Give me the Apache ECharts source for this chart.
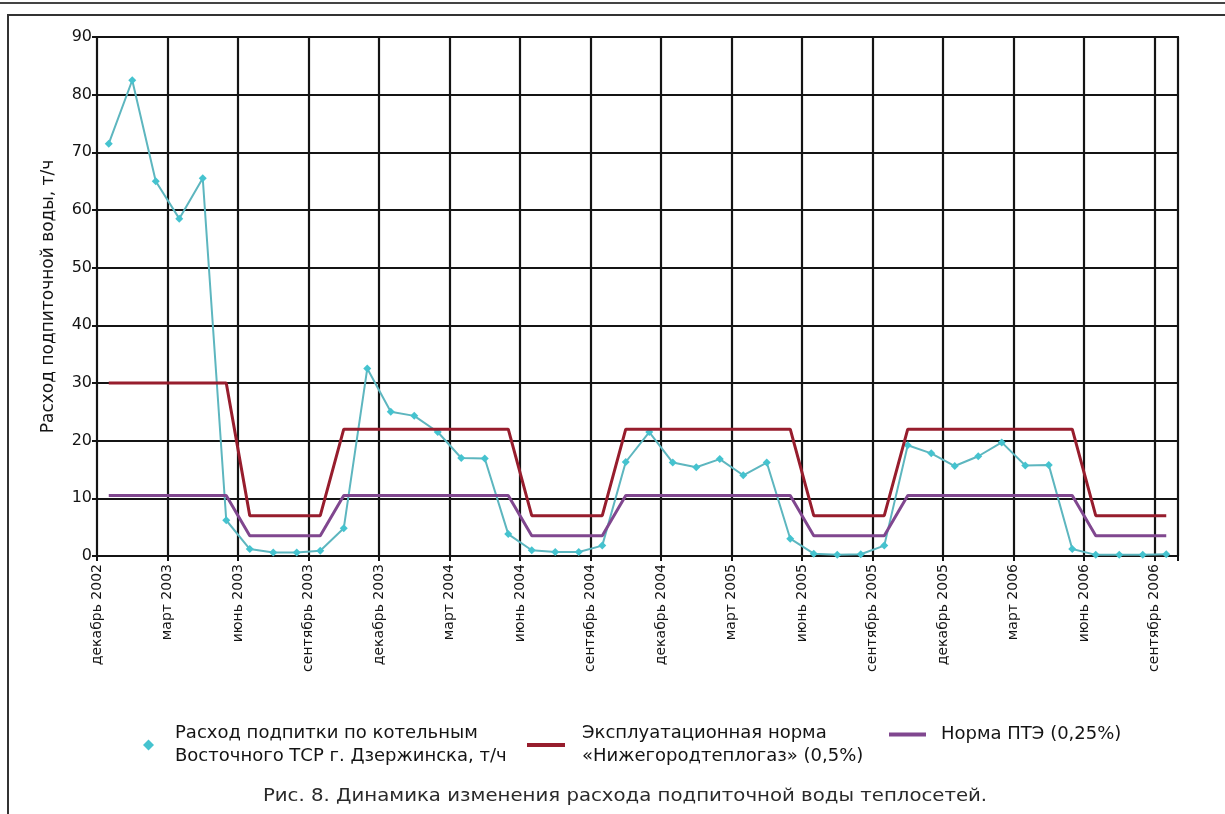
<!DOCTYPE html>
<html><head><meta charset="utf-8">
<script src="https://cdn.jsdelivr.net/npm/echarts@6/dist/echarts.min.js"></script>
<style>html,body{margin:0;padding:0;background:#fff}#c{width:1225px;height:814px}</style>
</head><body><div id="c"></div>
<script>
// ---- data ----
const months = [
  'декабрь 2002',
  'январь 2003','февраль 2003','март 2003','апрель 2003','май 2003','июнь 2003',
  'июль 2003','август 2003','сентябрь 2003','октябрь 2003','ноябрь 2003','декабрь 2003',
  'январь 2004','февраль 2004','март 2004','апрель 2004','май 2004','июнь 2004',
  'июль 2004','август 2004','сентябрь 2004','октябрь 2004','ноябрь 2004','декабрь 2004',
  'январь 2005','февраль 2005','март 2005','апрель 2005','май 2005','июнь 2005',
  'июль 2005','август 2005','сентябрь 2005','октябрь 2005','ноябрь 2005','декабрь 2005',
  'январь 2006','февраль 2006','март 2006','апрель 2006','май 2006','июнь 2006',
  'июль 2006','август 2006','сентябрь 2006'
];
const feedWater = [
  71.5, 82.5, 65, 58.5, 65.5, 6.2, 1.2, 0.6, 0.6, 0.9, 4.8, 32.5,
  25, 24.3, 21.5, 17, 16.9, 3.8, 1.0, 0.7, 0.7, 1.8, 16.3, 21.5,
  16.2, 15.4, 16.8, 14, 16.2, 3.0, 0.4, 0.2, 0.3, 1.8, 19.2, 17.8,
  15.6, 17.3, 19.7, 15.7, 15.8, 1.2, 0.2, 0.2, 0.2, 0.3
];
const opNorm = [
  30, 30, 30, 30, 30, 30, 7, 7, 7, 7, 22, 22,
  22, 22, 22, 22, 22, 22, 7, 7, 7, 7, 22, 22,
  22, 22, 22, 22, 22, 22, 7, 7, 7, 7, 22, 22,
  22, 22, 22, 22, 22, 22, 7, 7, 7, 7
];
const pteNorm = [
  10.5, 10.5, 10.5, 10.5, 10.5, 10.5, 3.5, 3.5, 3.5, 3.5, 10.5, 10.5,
  10.5, 10.5, 10.5, 10.5, 10.5, 10.5, 3.5, 3.5, 3.5, 3.5, 10.5, 10.5,
  10.5, 10.5, 10.5, 10.5, 10.5, 10.5, 3.5, 3.5, 3.5, 3.5, 10.5, 10.5,
  10.5, 10.5, 10.5, 10.5, 10.5, 10.5, 3.5, 3.5, 3.5, 3.5
];
const seriesNames = [
  'Расход подпитки по котельным\nВосточного ТСР г. Дзержинска, т/ч',
  'Эксплуатационная норма\n«Нижегородтеплогаз» (0,5%)',
  'Норма ПТЭ (0,25%)'
];
const yAxisTitle = 'Расход подпиточной воды, т/ч';
const caption = 'Рис. 8. Динамика изменения расхода подпиточной воды теплосетей.';

// ---- chart ----
const FONT = 'DejaVu Sans';
const INK = '#141414';
const chart = echarts.init(document.getElementById('c'), null, {renderer: 'canvas'});
const legendText = {fontFamily: FONT, fontSize: 18, lineHeight: 23, color: INK};
chart.setOption({
  backgroundColor: '#fff',
  animation: false,
  grid: {left: 97, top: 37, right: 47, bottom: 258, show: true, borderColor: INK, borderWidth: 2},
  xAxis: [
    {type: 'category', data: months, boundaryGap: true, show: false},
    {
      type: 'value', min: 0, max: months.length, interval: 3, position: 'bottom',
      axisLine: {show: true, lineStyle: {color: INK, width: 2}},
      axisTick: {show: true, length: 5, lineStyle: {color: INK, width: 2}},
      axisLabel: {
        rotate: 90, margin: 8, fontFamily: FONT, fontSize: 14, color: INK,
        formatter: v => (v % 3 === 0 && v < months.length) ? months[v] : ''
      },
      splitLine: {show: true, lineStyle: {color: INK, width: 2.2}}
    }
  ],
  yAxis: {
    type: 'value', min: 0, max: 90, interval: 10,
    name: yAxisTitle, nameLocation: 'middle', nameGap: 40,
    nameTextStyle: {fontFamily: FONT, fontSize: 17, color: INK},
    axisLine: {show: true, lineStyle: {color: INK, width: 2}},
    axisTick: {show: true, length: 5, lineStyle: {color: INK, width: 2}},
    axisLabel: {fontFamily: FONT, fontSize: 16, color: INK, margin: 5},
    splitLine: {show: true, lineStyle: {color: INK, width: 2.2}}
  },
  legend: [
    {data: [seriesNames[0]], left: 143, top: 722, padding: 0, icon: 'diamond',
     itemWidth: 11, itemHeight: 11, textStyle: Object.assign({padding: [0, 0, 0, 16]}, legendText)},
    {data: [seriesNames[1]], left: 527, top: 722, padding: 0, icon: 'rect',
     itemWidth: 38, itemHeight: 4, textStyle: Object.assign({padding: [0, 0, 0, 12]}, legendText)},
    {data: [seriesNames[2]], left: 889, top: 723, padding: 0, icon: 'rect',
     itemWidth: 37, itemHeight: 4, textStyle: Object.assign({padding: [0, 0, 0, 10]}, legendText)}
  ],
  series: [
    {name: seriesNames[0], type: 'line', xAxisIndex: 0, data: feedWater,
     symbol: 'diamond', symbolSize: 8, showSymbol: true, silent: true,
     lineStyle: {color: '#5db6bf', width: 2}, itemStyle: {color: '#45c3cf'}, z: 2},
    {name: seriesNames[1], type: 'line', xAxisIndex: 0, data: opNorm,
     symbol: 'none', silent: true,
     lineStyle: {color: '#971d2d', width: 3}, itemStyle: {color: '#971d2d'}, z: 3},
    {name: seriesNames[2], type: 'line', xAxisIndex: 0, data: pteNorm,
     symbol: 'none', silent: true,
     lineStyle: {color: '#80478f', width: 3}, itemStyle: {color: '#80478f'}, z: 3}
  ],
  graphic: [
    {type: 'line', silent: true, shape: {x1: 0, y1: 3, x2: 1225, y2: 3}, style: {stroke: '#444', lineWidth: 2}},
    {type: 'polyline', silent: true, shape: {points: [[8, 814], [8, 15], [1225, 15]]}, style: {stroke: '#333', lineWidth: 2, fill: null}},
    {type: 'text', silent: true, x: 625, y: 797, scaleX: 1.16,
     style: {text: caption, fontFamily: FONT, fontSize: 17, fill: '#2a2a2a', align: 'center', verticalAlign: 'middle'}}
  ]
});
</script></body></html>
